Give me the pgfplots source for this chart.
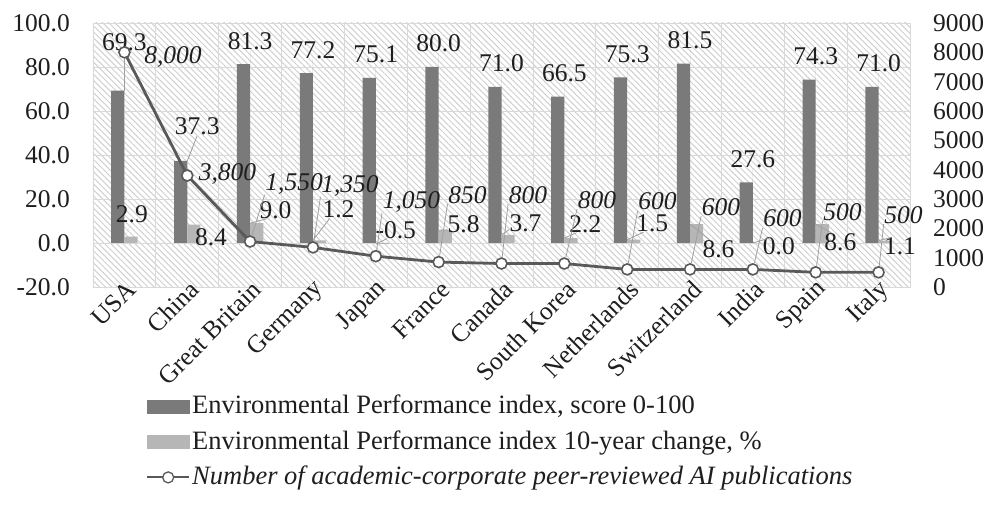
\documentclass[border=0pt]{standalone}
\usepackage{pgfplots}
\pgfplotsset{compat=1.18}
\usepackage{pgfplotstable}
\usepackage{fontspec}
\setmainfont{Liberation Serif}
\usetikzlibrary{patterns.meta}
\definecolor{darkbar}{RGB}{122,122,122}
\definecolor{lightbar}{RGB}{182,182,182}
\definecolor{linec}{RGB}{89,89,89}
\definecolor{gridc}{RGB}{217,217,217}
\definecolor{hatchc}{RGB}{208,208,208}
\definecolor{leadc}{RGB}{160,160,160}
\definecolor{txt}{RGB}{30,30,30}

\pgfplotstableread{
x dark dlab ddx ddy dlo light llab ldx ldy llo lanc
0 69.3 69.3 0 40 1 2.9 2.9 7.5 14.6 0 270
1 37.3 37.3 10 26 1 8.4 8.4 23.7 -20.5 0 180
2 81.3 81.3 0 15 0 9.0 9.0 25.4 5 1 225
3 77.2 77.2 0 15 0 1.2 1.2 25.5 22.4 1 225
4 75.1 75.1 0 15 0 -0.5 -0.5 20 6 1 225
5 80.0 80.0 0 15 0 5.8 5.8 25 -2 1 200
6 71.0 71.0 0 15 0 3.7 3.7 24 3 1 200
7 66.5 66.5 0 15 0 2.2 2.2 21 6 1 225
8 75.3 75.3 0 15 0 1.5 1.5 25 8 1 225
9 81.5 81.5 0 15 0 8.6 8.6 28.5 -33 1 135
10 27.6 27.6 0 15 0 0.0 0.0 26 -12 1 135
11 74.3 74.3 0 15 0 8.6 8.6 24.7 -26 1 135
12 71.0 71.0 0 15 0 1.1 1.1 21.4 -14 1 135
}\epitable

\pgfplotstableread{
x pubs plab pdx pdy plo
0 8000 8,000 48.6 -10.7 0
1 3800 3,800 40.2 -4.5 0
2 1550 1,550 44 51.5 1
3 1350 1,350 37 55.4 1
4 1050 1,050 35.7 48 1
5 850 850 28.8 59 1
6 800 800 26.5 60.5 1
7 800 800 32.6 55.5 1
8 600 600 30.3 59.4 1
9 600 600 31 54.4 1
10 600 600 29.6 42.4 1
11 500 500 26.7 52.3 1
12 500 500 25 49.3 1
}\pubtable

\begin{document}
\fontsize{25.5}{30}\selectfont
\begin{tikzpicture}
\path[use as bounding box] (-93pt,-229pt) rectangle (896pt,287pt);
\begin{axis}[
  at={(0,0)}, anchor=south west,
  width=817pt, height=264pt, scale only axis,
  xmin=-0.5, xmax=12.5, ymin=-20, ymax=100,
  axis background/.style={pattern={Lines[angle=-45,distance=4.3pt,line width=1pt]}, pattern color=hatchc},
  axis line style={draw=gridc, line width=0.8pt},
  xtick={0,...,12},
  xticklabels={USA,China,Great Britain,Germany,Japan,France,Canada,South Korea,Netherlands,Switzerland,India,Spain,Italy},
  minor xtick={-0.5,0.5,...,12.5},
  xminorgrids, ymajorgrids,
  grid style={draw=gridc, line width=0.8pt},
  minor grid style={draw=gridc, line width=0.8pt},
  major tick length=0pt, minor tick length=0pt,
  ytick={-20,0,20,40,60,80,100},
  yticklabels={-20.0,0.0,20.0,40.0,60.0,80.0,100.0},
  yticklabel style={inner sep=0pt, xshift=-23pt, text=txt},
  xticklabel style={rotate=45, anchor=east, inner sep=0pt, xshift=6pt, yshift=-4pt, text=txt},
  clip=false,
  point meta=explicit symbolic,
]
\addplot[ybar, bar width=0.21, bar shift=-0.105, fill=darkbar, draw=none,
  visualization depends on={\thisrow{ddx} \as \dx},
  visualization depends on={\thisrow{ddy} \as \dy},
  visualization depends on={\thisrow{dlo} \as \lo},
  nodes near coords,
  every node near coord/.append style={anchor=base, inner sep=0pt, text=txt, xshift=\dx pt, yshift=\dy pt,
    append after command={(\tikzlastnode.base) ++(-\dx pt,-\dy pt) edge[draw=leadc, line width=0.8pt, draw opacity=\lo, shorten >=1pt] (\tikzlastnode.south)}},
] table[x=x, y=dark, meta=dlab] {\epitable};
\addplot[ybar, bar width=0.21, bar shift=0.105, fill=lightbar, draw=none,
  visualization depends on={\thisrow{ldx} \as \dx},
  visualization depends on={\thisrow{ldy} \as \dy},
  visualization depends on={\thisrow{llo} \as \lo},
  visualization depends on={\thisrow{lanc} \as \lanc},
  nodes near coords,
  every node near coord/.append style={anchor=base, inner sep=0pt, text=txt, xshift=\dx pt, yshift=\dy pt,
    append after command={(\tikzlastnode.base) ++(-\dx pt,-\dy pt) edge[draw=leadc, line width=0.8pt, draw opacity=\lo] (\tikzlastnode.\lanc)}},
] table[x=x, y=light, meta=llab] {\epitable};
\end{axis}
\begin{axis}[
  at={(0,0)}, anchor=south west,
  width=817pt, height=264pt, scale only axis,
  xmin=-0.5, xmax=12.5, ymin=0, ymax=9000,
  axis x line=none, axis y line*=right,
  axis line style={draw=none},
  major tick length=0pt,
  ytick={0,1000,...,9000},
  yticklabels={0,1000,2000,3000,4000,5000,6000,7000,8000,9000},
  yticklabel style={inner sep=0pt, xshift=23pt, text=txt},
  clip=false,
  point meta=explicit symbolic,
  legend cell align=left,
  legend style={at={(0,0)}, anchor=north west, xshift=50pt, yshift=-104pt, draw=none, fill=none, row sep=9pt, text=txt, font=\fontsize{26.5}{31}\selectfont},
]
\addlegendimage{legend image code/.code={\fill[darkbar] (0pt,-6.5pt) rectangle (42pt,6.5pt);}}
\addlegendentry{Environmental Performance index, score 0-100}
\addlegendimage{legend image code/.code={\fill[lightbar] (0pt,-6.5pt) rectangle (42pt,6.5pt);}}
\addlegendentry{Environmental Performance index 10-year change, \%}
\addlegendimage{legend image code/.code={\draw[linec, line width=2pt] (0pt,0pt) -- (42pt,0pt); \draw[linec, fill=white, line width=1.3pt] (21pt,0pt) circle (5.5pt);}}
\addlegendentry{\textit{Number of academic-corporate peer-reviewed AI publications}}
\addplot[linec, line width=2.8pt, mark=*, mark size=5.5pt,
  mark options={fill=white, draw=linec, line width=1.6pt},
  visualization depends on={\thisrow{pdx} \as \dx},
  visualization depends on={\thisrow{pdy} \as \dy},
  visualization depends on={\thisrow{plo} \as \lo},
  nodes near coords,
  every node near coord/.append style={anchor=base, inner sep=0pt, text=txt, font=\itshape, xshift=\dx pt, yshift=\dy pt,
    append after command={(\tikzlastnode.base) ++(-\dx pt,-\dy pt) edge[draw=leadc, line width=0.8pt, draw opacity=\lo, shorten <=6.5pt] (\tikzlastnode.south west)}},
  forget plot,
] table[x=x, y=pubs, meta=plab] {\pubtable};
\end{axis}
\end{tikzpicture}
\end{document}
